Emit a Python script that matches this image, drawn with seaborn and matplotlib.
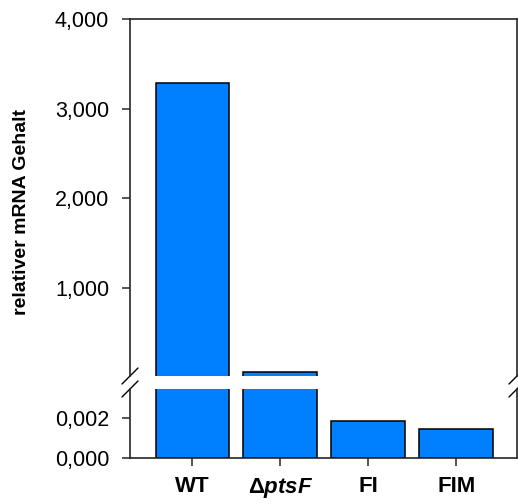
import matplotlib
matplotlib.use("Agg")
import matplotlib.pyplot as plt
import seaborn as sns
import pandas as pd
from matplotlib.ticker import FuncFormatter

# ----------------------------
# data
# ----------------------------
strains = ["WT", "ΔptsF", "FI", "FIM"]
tick_labels = ["WT", r"$\mathbf{\Delta}\mathbfit{ptsF}$", "FI", "FIM"]
mrna = [3.29, 0.065, 0.00185, 0.00147]
upper_ticks = [1.0, 2.0, 3.0, 4.0]
lower_ticks = [0.0, 0.002]

df = pd.DataFrame({"Strain": strains, "mRNA": mrna})

sns.set_style("ticks")
plt.rcParams["font.family"] = ["Liberation Sans", "DejaVu Sans"]
plt.rcParams["text.color"] = "black"
plt.rcParams["xtick.labelcolor"] = "black"
plt.rcParams["ytick.labelcolor"] = "black"
plt.rcParams["mathtext.fontset"] = "custom"
plt.rcParams["mathtext.rm"] = "Liberation Sans"
plt.rcParams["mathtext.bf"] = "Liberation Sans:bold"
plt.rcParams["mathtext.bfit"] = "Liberation Sans:italic:bold"

W, H = 518, 504
fig = plt.figure(figsize=(W / 100, H / 100), dpi=100)
ax_top = fig.add_axes([130 / W, 1 - 376 / H, 387 / W, 357 / H])
ax_bot = fig.add_axes([130 / W, 1 - 458 / H, 387 / W, 69 / H])

bar_kw = dict(color="#0080FF", edgecolor="black", linewidth=1.1, width=0.84, saturation=1)
for ax in (ax_top, ax_bot):
    sns.barplot(data=df, x="Strain", y="mRNA", ax=ax, **bar_kw)
    ax.set_xlim(-0.71, 3.69)
    ax.set_xlabel("")
    ax.set_ylabel("")
    for s in ax.spines.values():
        s.set_color("#262626")
        s.set_linewidth(1.2)
    ax.tick_params(axis="y", length=6, width=1.1, pad=9, labelsize=15.5,
                   color="#262626", labelcolor="black")

de_fmt = FuncFormatter(lambda v, p: f"{v:.3f}".replace(".", ","))

# upper part (tiny bottom offset hides the FI/FIM outlines)
ax_top.set_ylim(0.015, 4.0)
ax_top.set_yticks(upper_ticks)
ax_top.yaxis.set_major_formatter(de_fmt)
ax_top.spines["bottom"].set_visible(False)
ax_top.tick_params(axis="x", bottom=False, labelbottom=False)

# lower part
ax_bot.set_ylim(0, 0.00345)
ax_bot.set_yticks(lower_ticks)
ax_bot.yaxis.set_major_formatter(de_fmt)
ax_bot.spines["top"].set_visible(False)
ax_bot.set_xticks(range(len(strains)))
ax_bot.set_xticklabels(tick_labels, fontsize=16, fontweight="bold")
ax_bot.tick_params(axis="x", length=6, width=1.1, pad=7, color="#262626",
                   labelcolor="black")

# break marks
dx = 8 / 387
for ax, h, y0 in ((ax_top, 357, 0), (ax_bot, 69, 1)):
    dy = 8 / h
    for x0 in (0, 1):
        ax.plot([x0 - dx, x0 + dx], [y0 - dy, y0 + dy], transform=ax.transAxes,
                color="black", linewidth=1, clip_on=False)

fig.text(22 / W, 1 - 212 / H, "relativer mRNA Gehalt", rotation=90,
         ha="center", va="center", fontsize=14, fontweight="bold", color="black")

fig.savefig("out.png", dpi=100)
